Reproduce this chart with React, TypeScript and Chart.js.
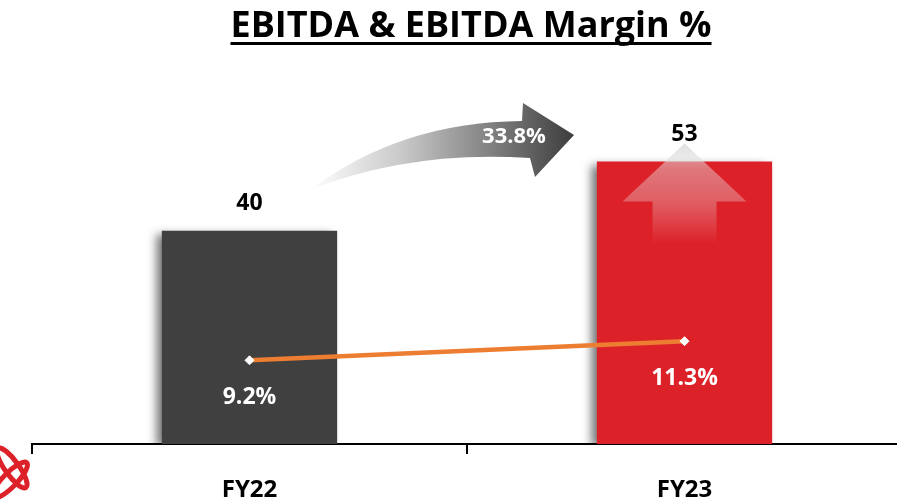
import React, { useEffect, useRef } from 'react';
import { Chart, registerables } from 'chart.js';

Chart.register(...registerables);

const categories = ['FY22', 'FY23'];
const ebitda = [40, 53];
const margin = [9.2, 11.3];
const growthLabel = '33.8%';
const titleText = 'EBITDA & EBITDA Margin %';
const barColors = ['#404040', '#DD2129'];
const lineColor = '#ED7D31';
const FONT = '"Open Sans", "DejaVu Sans", sans-serif';

export default function App() {
  const ref = useRef<HTMLCanvasElement>(null);

  useEffect(() => {
    const canvas = ref.current;
    if (!canvas) return;

    const shadowPlugin = {
      id: 'barShadow',
      beforeDatasetDraw(chart: any, args: any) {
        if (args.index === 0) {
          const ctx = chart.ctx;
          ctx.save();
          ctx.shadowColor = 'rgba(0,0,0,0.55)';
          ctx.shadowBlur = 9;
          ctx.shadowOffsetX = -6;
          ctx.shadowOffsetY = 3;
        }
      },
      afterDatasetDraw(chart: any, args: any) {
        if (args.index === 0) chart.ctx.restore();
      },
    };

    const decorPlugin = {
      id: 'decor',
      beforeDatasetsDraw(chart: any) {
        const ctx = chart.ctx;
        // title
        ctx.save();
        ctx.font = `bold 36px ${FONT}`;
        ctx.fillStyle = '#000';
        ctx.textAlign = 'center';
        ctx.textBaseline = 'alphabetic';
        const tx = 471;
        const ty = 37;
        ctx.fillText(titleText, tx, ty);
        const w = ctx.measureText(titleText).width;
        ctx.fillRect(tx - w / 2, ty + 5, w, 3);
        ctx.restore();

        // curved growth arrow
        ctx.save();
        const g = ctx.createLinearGradient(310, 0, 575, 0);
        g.addColorStop(0, 'rgba(255,255,255,1)');
        g.addColorStop(0.35, '#c8c8c8');
        g.addColorStop(1, '#3c3c3c');
        ctx.fillStyle = g;
        ctx.beginPath();
        ctx.moveTo(310, 190);
        ctx.quadraticCurveTo(400, 122, 522, 121);
        ctx.lineTo(523, 103);
        ctx.lineTo(574, 135);
        ctx.lineTo(535, 177);
        ctx.lineTo(530, 158);
        ctx.quadraticCurveTo(410, 150, 310, 190);
        ctx.closePath();
        ctx.fill();
        ctx.font = `bold 22px ${FONT}`;
        ctx.fillStyle = '#fff';
        ctx.textAlign = 'center';
        ctx.textBaseline = 'middle';
        ctx.fillText(growthLabel, 514, 137);
        ctx.restore();

        // logo (decorative)
        ctx.save();
        ctx.strokeStyle = '#DD2129';
        ctx.lineWidth = 5;
        ctx.beginPath();
        ctx.ellipse(12, 468, 24, 7, 0.95, 0, Math.PI * 2);
        ctx.stroke();
        ctx.beginPath();
        ctx.ellipse(10, 480, 24, 7, -0.8, 0, Math.PI * 2);
        ctx.stroke();
        ctx.restore();
      },
      afterDatasetsDraw(chart: any) {
        const ctx = chart.ctx;
        const barMeta = chart.getDatasetMeta(0);
        const lineMeta = chart.getDatasetMeta(1);

        // translucent up arrow on last bar
        const last = barMeta.data[barMeta.data.length - 1];
        if (last) {
          const cx = last.x;
          const top = last.y;
          ctx.save();
          const ag = ctx.createLinearGradient(0, top - 18, 0, top + 82);
          ag.addColorStop(0, 'rgba(215,215,215,0.8)');
          ag.addColorStop(0.25, 'rgba(225,225,225,0.45)');
          ag.addColorStop(0.6, 'rgba(230,230,230,0.3)');
          ag.addColorStop(1, 'rgba(230,230,230,0)');
          ctx.fillStyle = ag;
          ctx.beginPath();
          ctx.moveTo(cx, top - 18);
          ctx.lineTo(cx + 62, top + 40);
          ctx.lineTo(cx + 32, top + 40);
          ctx.lineTo(cx + 32, top + 82);
          ctx.lineTo(cx - 32, top + 82);
          ctx.lineTo(cx - 32, top + 40);
          ctx.lineTo(cx - 62, top + 40);
          ctx.closePath();
          ctx.fill();
          ctx.restore();
        }

        ctx.save();
        ctx.textAlign = 'center';
        ctx.textBaseline = 'middle';
        ctx.font = `bold 23px ${FONT}`;
        ctx.fillStyle = '#000';
        barMeta.data.forEach((el: any, i: number) => {
          ctx.fillText(String(ebitda[i]), el.x, el.y - 27);
        });
        ctx.fillStyle = '#fff';
        ctx.font = `bold 23px ${FONT}`;
        lineMeta.data.forEach((el: any, i: number) => {
          ctx.fillText(margin[i].toFixed(1) + '%', el.x, el.y + 37);
        });
        ctx.restore();
      },
    };

    const chart = new Chart(canvas, {
      type: 'bar',
      data: {
        labels: categories,
        datasets: [
          {
            type: 'bar',
            label: 'EBITDA',
            data: ebitda,
            backgroundColor: barColors,
            borderWidth: 0,
            categoryPercentage: 1,
            barPercentage: 0.403,
            yAxisID: 'y',
            order: 1,
          },
          {
            type: 'line',
            label: 'EBITDA Margin %',
            data: margin,
            borderColor: lineColor,
            borderWidth: 4.5,
            pointStyle: 'rectRot',
            pointRadius: 4.5,
            pointBackgroundColor: '#fff',
            pointBorderColor: '#fff',
            pointBorderWidth: 1,
            yAxisID: 'y1',
            order: 0,
          } as any,
        ],
      },
      options: {
        responsive: false,
        animation: false,
        devicePixelRatio: 1,
        layout: { padding: { top: 71, left: 32, right: 8, bottom: 0 } },
        plugins: {
          legend: { display: false },
          tooltip: { enabled: false },
          title: { display: false },
        },
        scales: {
          x: {
            offset: true,
            grid: {
              display: true,
              drawOnChartArea: false,
              drawTicks: true,
              tickLength: 10,
              color: '#000',
              lineWidth: 2,
              offset: true,
            },
            border: { display: true, color: '#000', width: 2 },
            ticks: {
              color: '#000',
              padding: 22,
              font: { family: FONT, size: 24, weight: 'bold' },
            },
            afterFit: (scale: any) => {
              scale.height = 58;
            },
          },
          y: { display: false, min: 0, max: 70 },
          y1: { display: false, min: 0, max: 41, position: 'right' },
        },
      } as any,
      plugins: [shadowPlugin, decorPlugin],
    });

    return () => chart.destroy();
  }, []);

  return (
    <div
      style={{
        position: 'fixed',
        left: 0,
        top: 0,
        width: 897,
        height: 502,
        overflow: 'hidden',
        background: '#fff',
      }}
    >
      <canvas ref={ref} width={910} height={502} style={{ display: 'block' }} />
    </div>
  );
}
